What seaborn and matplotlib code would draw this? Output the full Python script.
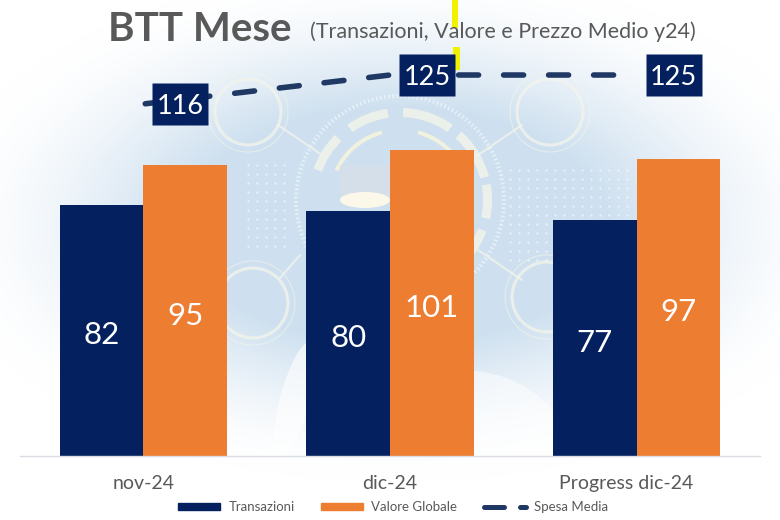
import numpy as np
import pandas as pd
import matplotlib
matplotlib.use("Agg")
import matplotlib.pyplot as plt
from matplotlib.lines import Line2D
from matplotlib.patches import Patch, Circle, Rectangle, Wedge, Ellipse
from matplotlib.path import Path
from matplotlib.transforms import ScaledTranslation
import seaborn as sns

# Dati
mesi = ["nov-24", "dic-24", "Progress dic-24"]
transazioni = [82, 80, 77]
valore_globale = [95, 101, 97]
spesa_media = [116, 125, 125]

BLU = "#04205f"
ARANCIO = "#ed7d31"
LINEA = "#1f3864"
GRIGIO = "#595959"
W, H = 780, 520

sns.set_theme(style="white")
plt.rcParams["font.family"] = ["Lato", "DejaVu Sans"]

df = pd.DataFrame({
    "Mese": mesi * 2,
    "Serie": ["Transazioni"] * 3 + ["Valore Globale"] * 3,
    "Valore": transazioni + valore_globale,
})

fig = plt.figure(figsize=(7.8, 5.2), dpi=100)

# Sfondo: alone azzurro al centro, solo decorativo
bg = fig.add_axes([0, 0, 1, 1], zorder=0)
yy, xx = np.mgrid[0:H, 0:W]
d1 = np.sqrt(((xx - 395) / 440.0) ** 2 + ((yy - 225) / 245.0) ** 2)
alone = np.clip(1.05 - d1, 0, 1) / 1.05
alone = alone * alone * (3 - 2 * alone)
alone = np.clip(alone * 1.8, 0, 1)
img = np.ones((H, W, 3))
img[..., 0] -= 0.19 * alone
img[..., 1] -= 0.12 * alone
img[..., 2] -= 0.06 * alone
bg.imshow(img, extent=[0, W, H, 0], aspect="auto")
bg.set_xlim(0, W)
bg.set_ylim(H, 0)
bg.axis("off")

# Icone e anelli tenui dell'immagine di fondo
TENUE = "#f4f5ea"
for cx, cy, r in [(248, 112, 33), (550, 112, 33), (253, 303, 35), (547, 297, 35)]:
    bg.add_patch(Circle((cx, cy), r, fill=False, ec=TENUE, lw=2.2, alpha=0.75))
    bg.add_patch(Circle((cx, cy), r + 7, fill=False, ec=TENUE, lw=0.8, alpha=0.6))
for x0, y0, x1, y1 in [(278, 125, 322, 155), (478, 155, 522, 125), (300, 255, 280, 278), (478, 250, 522, 280)]:
    bg.plot([x0, x1], [y0, y1], color=TENUE, lw=1.5, alpha=0.75)
for t1, t2 in [(200, 225), (235, 262), (272, 305), (312, 345), (350, 372), (20, 60)]:
    bg.add_patch(Wedge((400, 200), 92, t1, t2, width=9, fc=TENUE, ec="none", alpha=0.8))
for t1, t2 in [(205, 255), (285, 340), (350, 395)]:
    bg.add_patch(Wedge((400, 200), 72, t1, t2, width=4, fc="#fbf6dc", ec="none", alpha=0.8))
bg.add_patch(Circle((400, 200), 104, fill=False, ec="white", lw=3, ls=(0, (0.4, 0.6)), alpha=0.5))
bg.add_patch(Rectangle((340, 165), 50, 35, fc="#d8dfe8", ec="none", alpha=0.8))
bg.add_patch(Ellipse((365, 200), 50, 16, fc="#fbf8ea", ec="none"))
griglia_x, griglia_y = np.meshgrid(np.arange(248, 292, 9), np.arange(165, 250, 9))
bg.scatter(griglia_x, griglia_y, s=2.5, color="white", alpha=0.6, lw=0)
griglia_x, griglia_y = np.meshgrid(np.arange(510, 630, 9), np.arange(170, 265, 9))
bg.scatter(griglia_x, griglia_y, s=2.5, color="white", alpha=0.6, lw=0)
bg.add_patch(Ellipse((490, 420), 150, 90, angle=20, fc="white", ec="none", alpha=0.5))
bg.add_patch(Ellipse((295, 400), 30, 120, angle=15, fc="white", ec="none", alpha=0.6))

# Segni gialli rimasti nella slide
bg.add_patch(Rectangle((452, 0), 6, 28, color="#f2f200", lw=0))
bg.add_patch(Rectangle((453, 47), 7, 23, color="#f2f200", lw=0))

ax = fig.add_axes([20 / W, 1 - 456 / H, 740 / W, 306 / H], zorder=1)
ax.patch.set_alpha(0)
sns.barplot(
    data=df, x="Mese", y="Valore", hue="Serie",
    palette=[BLU, ARANCIO], width=0.678, gap=0, saturation=1,
    edgecolor="none", linewidth=0, legend=False, ax=ax,
)
ax.set_xlim(-0.5, 2.5)
ax.set_ylim(0, 306 / 3.06)
ax.set_xlabel("")
ax.set_ylabel("")
ax.set_yticks([])
ax.tick_params(axis="x", length=0, labelsize=14, labelcolor=GRIGIO, pad=14)
# L'etichetta lunga nel riferimento sta un po' a sinistra
lab = ax.get_xticklabels()[2]
lab.set_transform(lab.get_transform() + ScaledTranslation(-0.11, 0, fig.dpi_scale_trans))
sns.despine(ax=ax, left=True)
ax.spines["bottom"].set_color("#d9dde3")
ax.spines["bottom"].set_linewidth(1)
for c in ax.containers:
    ax.bar_label(c, label_type="center", color="white", fontsize=22.5, padding=-3.5)

# Linea della spesa media su un asse proprio
ax2 = ax.twinx()
ax2.patch.set_alpha(0)
sns.lineplot(x=[0, 1, 2], y=spesa_media, ax=ax2, color=LINEA, lw=4, legend=False)
linea = ax2.lines[0]
linea.set_linestyle((7.75, (3.6, 4.5)))
linea.set_dash_capstyle("round")
linea.set_clip_on(False)
ax2.set_ylim(116 - (456 - 104) / 3.22, 116 + (104 - 150) / 3.22)
ax2.set_yticks([])
ax2.set_ylabel("")
sns.despine(ax=ax2, left=True, right=True, bottom=True)

# Riquadri dei valori, spostati a destra del punto
sposta = ax2.transData + ScaledTranslation(0.37, 0, fig.dpi_scale_trans)
riquadro = Path([(-1, -0.75), (1, -0.75), (1, 0.75), (-1, 0.75), (-1, -0.75)], closed=True)
ax2.plot(
    [0, 1, 2], spesa_media, ls="none", marker=riquadro, ms=40.3, mfc=BLU, mec="none",
    transform=sposta, clip_on=False,
)
for i, v in enumerate(spesa_media):
    ax2.text(
        i, v, str(v), transform=sposta, ha="center", va="center_baseline",
        color="white", fontsize=19.5, clip_on=False,
    )

# Titolo
fig.text(108 / W, 1 - 41 / H, "BTT Mese", fontsize=29, weight="bold", color=GRIGIO, va="baseline", zorder=5)
fig.text(310 / W, 1 - 38 / H, "(Transazioni, Valore e Prezzo Medio y24)", fontsize=15.5, color=GRIGIO, va="baseline", zorder=5)

# Legenda
maniglie = [
    Patch(color=BLU, label="Transazioni"),
    Patch(color=ARANCIO, label="Valore Globale"),
    Line2D([0], [0], color=LINEA, lw=3.6, ls=(0, (4, 3.2)), dash_capstyle="round", label="Spesa Media"),
]
fig.legend(
    handles=maniglie, loc="center", bbox_to_anchor=(393 / W, 1 - 507 / H), ncol=3,
    frameon=False, fontsize=9.5, labelcolor=GRIGIO, columnspacing=2.0,
    handlelength=3.2, handleheight=0.5, handletextpad=0.6,
)

fig.savefig("out.png", dpi=100)
